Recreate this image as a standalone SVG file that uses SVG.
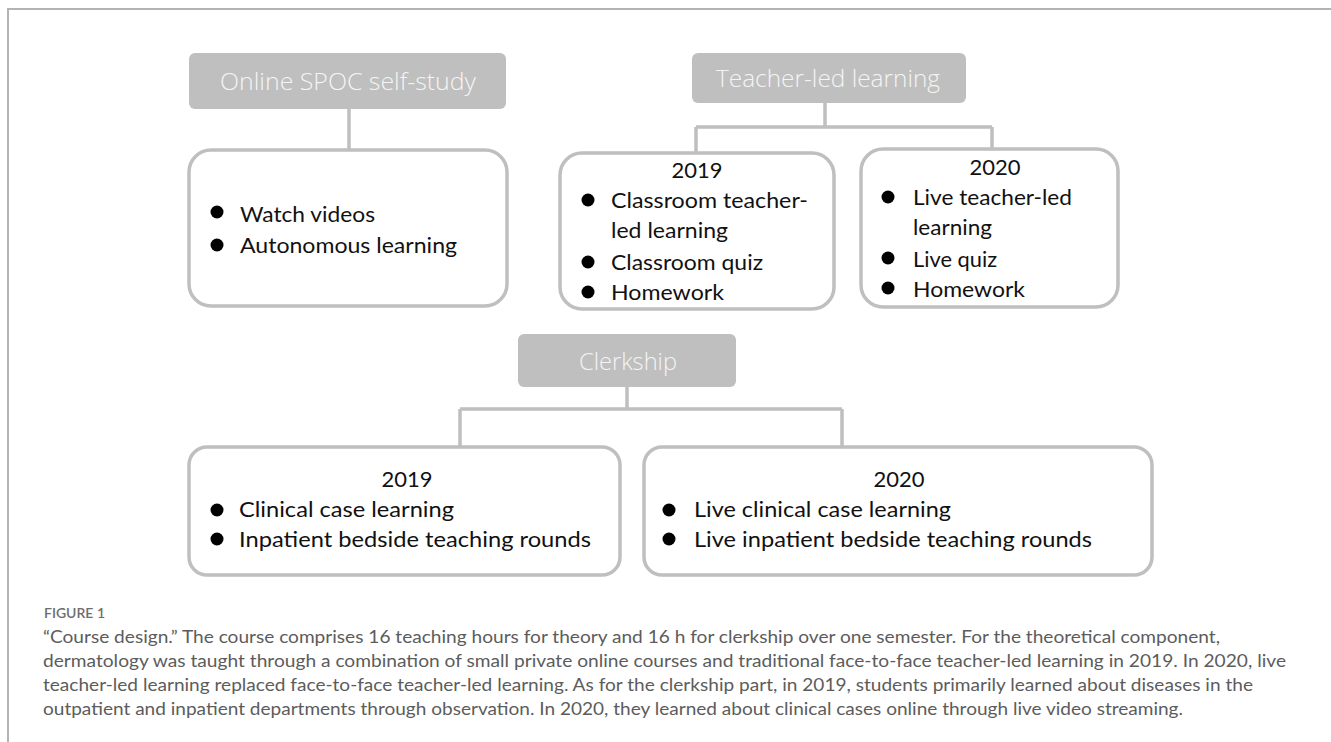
<svg xmlns="http://www.w3.org/2000/svg" width="1331" height="742" viewBox="0 0 1331 742">
  <style>
    .hdr { fill: #bfbfbf; }
    .hdr-t { font-family: "Open Sans", "Liberation Sans", sans-serif; font-weight: 300; font-size: 23px; fill: #f4f4f4; text-anchor: middle; }
    .box { fill: #ffffff; stroke: #bfbfbf; stroke-width: 3.5; }
    .t { font-family: Lato, "Open Sans", "Liberation Sans", sans-serif; font-size: 22px; fill: #111111; }
    .yr { text-anchor: middle; }
    .dot { fill: #000000; }
    .link { fill: none; stroke: #bfbfbf; stroke-width: 3.5; }
    .frame { fill: none; stroke: #b3b3b3; stroke-width: 2; }
    .cap { font-family: Lato, "Open Sans", "Liberation Sans", sans-serif; font-size: 17px; fill: #5c5c5c; }
    .fig { font-family: Lato, "Open Sans", "Liberation Sans", sans-serif; font-size: 13px; fill: #6e6e6e; font-weight: 600; }
  </style>

  <!-- figure frame (top and left rules) -->
  <path class="frame" d="M8 742 V9 H1331"/>

  <!-- connectors -->
  <g id="connectors">
    <path class="link" d="M349 109 V150"/>
    <path class="link" d="M825 103 V127 M696 127 H992 M696 127 V153 M992 127 V150"/>
    <path class="link" d="M627 387 V409 M460 409 H842 M460 409 V449 M842 409 V452"/>
  </g>

  <!-- Online SPOC self-study -->
  <g id="spoc-header">
    <rect class="hdr" x="189" y="53" width="317" height="56" rx="6"/>
    <text class="hdr-t" x="348" y="90" textLength="256" lengthAdjust="spacingAndGlyphs">Online SPOC self-study</text>
  </g>
  <g id="spoc-box">
    <rect class="box" x="189" y="150" width="318" height="156" rx="22"/>
    <circle class="dot" cx="217" cy="212" r="6.5"/>
    <text class="t" x="240" y="222" textLength="135" lengthAdjust="spacingAndGlyphs">Watch videos</text>
    <circle class="dot" cx="217" cy="245" r="6.5"/>
    <text class="t" x="240" y="253" textLength="217" lengthAdjust="spacingAndGlyphs">Autonomous learning</text>
  </g>

  <!-- Teacher-led learning -->
  <g id="teacher-header">
    <rect class="hdr" x="692" y="53" width="274" height="50" rx="6"/>
    <text class="hdr-t" x="828" y="87" textLength="224" lengthAdjust="spacingAndGlyphs">Teacher-led learning</text>
  </g>
  <g id="teacher-2019">
    <rect class="box" x="560" y="153" width="274" height="156" rx="22"/>
    <text class="t yr" x="697" y="178">2019</text>
    <circle class="dot" cx="588" cy="200" r="6.5"/>
    <text class="t" x="611" y="208" textLength="197" lengthAdjust="spacingAndGlyphs">Classroom teacher-</text>
    <text class="t" x="611" y="238" textLength="117" lengthAdjust="spacingAndGlyphs">led learning</text>
    <circle class="dot" cx="588" cy="262" r="6.5"/>
    <text class="t" x="611" y="270" textLength="152" lengthAdjust="spacingAndGlyphs">Classroom quiz</text>
    <circle class="dot" cx="588" cy="292" r="6.5"/>
    <text class="t" x="611" y="300" textLength="113" lengthAdjust="spacingAndGlyphs">Homework</text>
  </g>
  <g id="teacher-2020">
    <rect class="box" x="861" y="149" width="257" height="158" rx="22"/>
    <text class="t yr" x="995" y="175">2020</text>
    <circle class="dot" cx="888" cy="197" r="6.5"/>
    <text class="t" x="913" y="205" textLength="159" lengthAdjust="spacingAndGlyphs">Live teacher-led</text>
    <text class="t" x="913" y="235" textLength="79" lengthAdjust="spacingAndGlyphs">learning</text>
    <circle class="dot" cx="888" cy="258" r="6.5"/>
    <text class="t" x="913" y="267" textLength="84" lengthAdjust="spacingAndGlyphs">Live quiz</text>
    <circle class="dot" cx="888" cy="288" r="6.5"/>
    <text class="t" x="913" y="297" textLength="112" lengthAdjust="spacingAndGlyphs">Homework</text>
  </g>

  <!-- Clerkship -->
  <g id="clerkship-header">
    <rect class="hdr" x="518" y="334" width="218" height="53" rx="6"/>
    <text class="hdr-t" x="628" y="370" textLength="98" lengthAdjust="spacingAndGlyphs">Clerkship</text>
  </g>
  <g id="clerkship-2019">
    <rect class="box" x="189" y="447" width="431" height="128" rx="18"/>
    <text class="t yr" x="407" y="487">2019</text>
    <circle class="dot" cx="217" cy="510" r="6.5"/>
    <text class="t" x="239" y="517" textLength="215" lengthAdjust="spacingAndGlyphs">Clinical case learning</text>
    <circle class="dot" cx="217" cy="539" r="6.5"/>
    <text class="t" x="239" y="547" textLength="352" lengthAdjust="spacingAndGlyphs">Inpatient bedside teaching rounds</text>
  </g>
  <g id="clerkship-2020">
    <rect class="box" x="644" y="447" width="508" height="128" rx="18"/>
    <text class="t yr" x="899" y="487">2020</text>
    <circle class="dot" cx="669" cy="510" r="6.5"/>
    <text class="t" x="694" y="517" textLength="257" lengthAdjust="spacingAndGlyphs">Live clinical case learning</text>
    <circle class="dot" cx="669" cy="539" r="6.5"/>
    <text class="t" x="694" y="547" textLength="398" lengthAdjust="spacingAndGlyphs">Live inpatient bedside teaching rounds</text>
  </g>

  <!-- caption -->
  <g id="caption">
    <text class="fig" x="44" y="618" textLength="61" lengthAdjust="spacingAndGlyphs">FIGURE 1</text>
    <text class="cap" x="43" y="643" textLength="1177" lengthAdjust="spacingAndGlyphs">“Course design.” The course comprises 16 teaching hours for theory and 16 h for clerkship over one semester. For the theoretical component,</text>
    <text class="cap" x="43" y="667" textLength="1243" lengthAdjust="spacingAndGlyphs">dermatology was taught through a combination of small private online courses and traditional face-to-face teacher-led learning in 2019. In 2020, live</text>
    <text class="cap" x="43" y="691" textLength="1210" lengthAdjust="spacingAndGlyphs">teacher-led learning replaced face-to-face teacher-led learning. As for the clerkship part, in 2019, students primarily learned about diseases in the</text>
    <text class="cap" x="43" y="715" textLength="1140" lengthAdjust="spacingAndGlyphs">outpatient and inpatient departments through observation. In 2020, they learned about clinical cases online through live video streaming.</text>
  </g>
</svg>
